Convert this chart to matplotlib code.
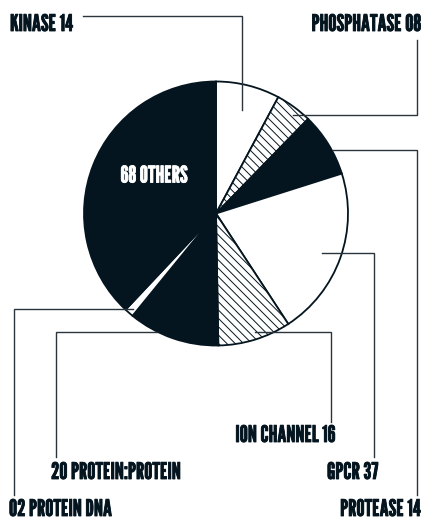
import matplotlib
matplotlib.use('Agg')
import matplotlib.pyplot as plt
import matplotlib.patheffects as pe

# target classes and number of structures, clockwise from 12 o'clock
categories = ['KINASE', 'PHOSPHATASE', 'PROTEASE', 'GPCR', 'ION CHANNEL',
              'PROTEIN:PROTEIN', 'PROTEIN DNA', 'OTHERS']
counts = [14, 8, 14, 37, 16, 20, 2, 68]
# fill style of each wedge: 'w' white, 'h' hatched, 'k' solid
fills = ['w', 'h', 'k', 'w', 'h', 'k', 'w', 'k']

dark = '#04151f'
line_col = '#2a343d'

plt.rcParams['font.family'] = ['League Gothic', 'Oswald', 'DejaVu Sans']
plt.rcParams['hatch.linewidth'] = 0.7
plt.rcParams['hatch.color'] = dark

fig = plt.figure(figsize=(4.22, 5.17), dpi=100)
ax = fig.add_axes([0, 0, 1, 1])

face = {'w': 'white', 'h': 'white', 'k': dark}
# y axis is flipped below, so counterclock in data space reads clockwise
wedges, _ = ax.pie(counts, colors=[face[f] for f in fills],
                   startangle=-90, counterclock=True,
                   center=(216, 213.5), radius=132, frame=True,
                   wedgeprops=dict(edgecolor=dark, linewidth=1.3))
for w, f in zip(wedges, fills):
    if f == 'h':
        w.set_hatch('\\\\\\\\')
ax.set_xlim(0, 422)
ax.set_ylim(517, 0)   # pixel style coords, y downwards
ax.axis('off')

# label text and leader lines (label position, alignment, polyline)
fs = 16.5
labels = [
    ('%s %d' % (categories[0], counts[0]), 10, 24.5, 'left',
     [(83, 16), (242, 16), (242, 110)]),
    ('%s %02d' % (categories[1], counts[1]), 420.5, 24.5, 'right',
     [(417, 40), (417, 115), (293, 115)]),
    ('%s %d' % (categories[2], counts[2]), 420.5, 509.5, 'right',
     [(333, 150), (417, 150), (417, 495)]),
    ('%s %d' % (categories[3], counts[3]), 378, 472.5, 'right',
     [(322, 253), (374, 253), (374, 457)]),
    ('%s %d' % (categories[4], counts[4]), 335, 435.5, 'right',
     [(255, 332), (331, 332), (331, 422)]),
    ('%d %s' % (counts[5], categories[5]), 51, 472.5, 'left',
     [(157, 332), (56, 332), (56, 457)]),
    ('%02d %s' % (counts[6], categories[6]), 9, 509.5, 'left',
     [(133, 309), (13.5, 309), (13.5, 495)]),
]
# League Gothic has a single weight, a thin stroke makes it heavier
bold_dark = [pe.withStroke(linewidth=0.6, foreground=dark)]
for text, x, y, ha, pts in labels:
    ax.text(x, y, text, ha=ha, va='center', fontsize=fs,
            color=dark, path_effects=bold_dark)
    xs, ys = zip(*pts)
    ax.plot(xs, ys, color=line_col, linewidth=1.0, solid_joinstyle='miter')

ax.text(154, 176, '%d %s' % (counts[7], categories[7]), ha='center',
        va='center', fontsize=fs, color='white',
        path_effects=[pe.withStroke(linewidth=0.6, foreground='white')])

fig.savefig('out.png', dpi=100)
